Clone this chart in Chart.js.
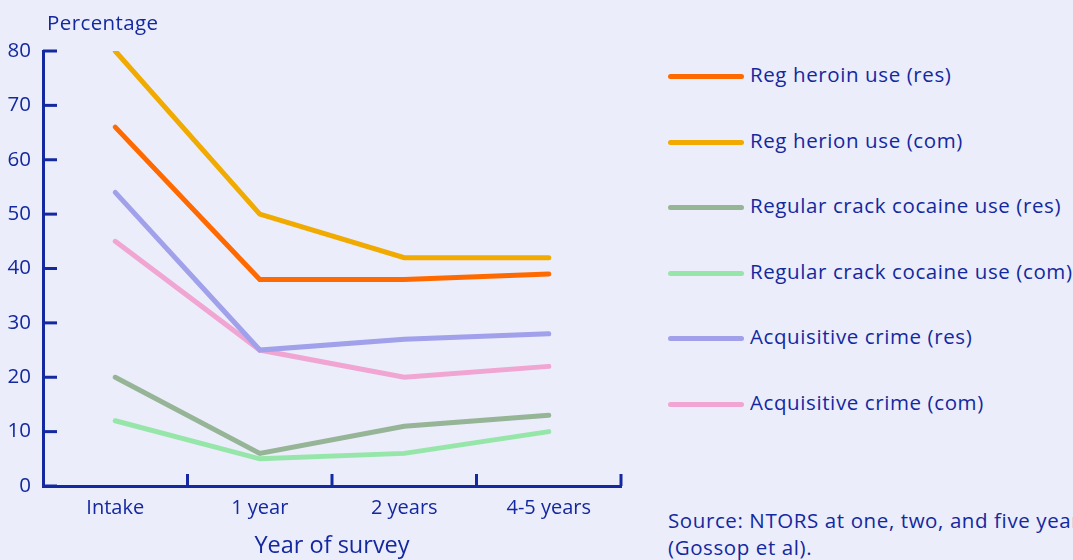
<!DOCTYPE html>
<html>
<head>
<meta charset="utf-8">
<title>Drug use and crime after treatment</title>
<script src="https://cdn.jsdelivr.net/npm/chart.js@4.4.1/dist/chart.umd.min.js"></script>
<style>
    html, body{
        margin: 0;
        padding: 0;
        background: #ebedfa;
        overflow: hidden;
    }
    .page{
        position: relative;
        width: 1073px;
        height: 560px;
        font-family: "Open Sans", sans-serif;
        color: #1428a0;
    }
    .chart-box{
        position: absolute;
        left: 0;
        top: 0;
        width: 640px;
        height: 560px;
    }
    .legend{
        position: absolute;
        left: 668px;
        top: 0;
        width: 405px;
        height: 560px;
        overflow: hidden;
    }
    .legend-item{
        position: absolute;
        left: 0;
        white-space: nowrap;
        font-size: 20.5px;
        letter-spacing: 0.6px;
    }
    .legend-item .swatch{
        position: absolute;
        left: 0;
        top: 12px;
        width: 76px;
        height: 5px;
        border-radius: 3px;
    }
    .legend-item .label{
        position: absolute;
        left: 82px;
        top: -2px;
    }
    .source{
        position: absolute;
        left: 0;
        top: 507px;
        font-size: 20.5px;
        letter-spacing: 0.6px;
        line-height: 27px;
        white-space: nowrap;
    }
</style>
</head>
<body>

<div class="page">
    <div class="chart-box">
        <canvas id="surveyChart" width="640" height="560"></canvas>
    </div>
    <div class="legend" id="legend">
        <div class="source">
            Source: NTORS at one, two, and five years<br>
            (Gossop et al).
        </div>
    </div>
</div>

<script>

/* =========================
   DATA
========================= */

const years = ["Intake", "1 year", "2 years", "4-5 years"];

const heroinRes = [66, 38, 38, 39];
const heroinCom = [80, 50, 42, 42];
const crackRes = [20, 6, 11, 13];
const crackCom = [12, 5, 6, 10];
const crimeRes = [54, 25, 27, 28];
const crimeCom = [45, 25, 20, 22];

const seriesNames = [
    "Reg heroin use (res)",
    "Reg herion use (com)",
    "Regular crack cocaine use (res)",
    "Regular crack cocaine use (com)",
    "Acquisitive crime (res)",
    "Acquisitive crime (com)"
];

const seriesColors = [
    "#ff6a00",
    "#f0aa00",
    "#96b496",
    "#96e6aa",
    "#a0a0eb",
    "#f0a5d2"
];

const yTicks = [0, 10, 20, 30, 40, 50, 60, 70, 80];

const inkColor = "#1428a0";

/* =========================
   INSIDE TICKS + Y TITLE
========================= */

const axisDecor = {

    id: "axisDecor",

    afterDraw(chart){

        const ctx = chart.ctx;
        const x = chart.scales.x;
        const y = chart.scales.y;
        const area = chart.chartArea;

        ctx.save();

        ctx.strokeStyle = inkColor;
        ctx.lineWidth = 3;

        /* y ticks pointing right */
        yTicks.forEach(v => {
            const py = y.getPixelForValue(v);
            ctx.beginPath();
            ctx.moveTo(area.left, py);
            ctx.lineTo(area.left + 14, py);
            ctx.stroke();
        });

        /* x ticks pointing up, between categories */
        for(let i = 0; i < years.length; i++){
            let px;
            if(i < years.length - 1){
                px = (x.getPixelForValue(i) + x.getPixelForValue(i + 1)) / 2;
            }else{
                px = area.right;
            }
            ctx.beginPath();
            ctx.moveTo(px, area.bottom);
            ctx.lineTo(px, area.bottom - 12);
            ctx.stroke();
        }

        /* y axis title */
        ctx.fillStyle = inkColor;
        ctx.font = "20.5px 'Open Sans', sans-serif";
        ctx.letterSpacing = "0.4px";
        ctx.textAlign = "left";
        ctx.textBaseline = "middle";
        ctx.fillText("Percentage", 47, 24);

        ctx.restore();

    }

};

/* =========================
   CHART
========================= */

const datasetList = [heroinRes, heroinCom, crackRes, crackCom, crimeRes, crimeCom]
    .map((values, i) => ({
        label: seriesNames[i],
        data: values,
        borderColor: seriesColors[i],
        backgroundColor: seriesColors[i],
        borderWidth: 5,
        borderCapStyle: "round",
        borderJoinStyle: "miter",
        pointRadius: 0,
        tension: 0,
        fill: false
    }));

new Chart(document.getElementById("surveyChart"), {

    type: "line",

    data: {
        labels: years,
        datasets: datasetList
    },

    options: {

        responsive: false,
        animation: false,

        layout: {
            padding: { left: 0, right: 19, top: 51, bottom: 0 }
        },

        plugins: {
            legend: { display: false },
            tooltip: { enabled: false }
        },

        scales: {

            x: {
                offset: true,
                grid: { display: false },
                border: { display: true, color: inkColor, width: 3 },
                ticks: {
                    color: inkColor,
                    font: { family: "Open Sans", size: 20 },
                    padding: 2,
                    maxRotation: 0
                },
                title: {
                    display: true,
                    text: "Year of survey",
                    color: inkColor,
                    font: { family: "Open Sans", size: 23.5 },
                    padding: { top: 8, bottom: 0 }
                },
                afterFit(scale){
                    scale.height = 74;
                }
            },

            y: {
                min: 0,
                max: 80,
                grid: { display: false },
                border: { display: true, color: inkColor, width: 3 },
                afterBuildTicks(scale){
                    scale.ticks = yTicks.map(v => ({ value: v }));
                },
                ticks: {
                    color: inkColor,
                    font: { family: "Open Sans", size: 20.5 },
                    padding: 4
                },
                afterFit(scale){
                    scale.width = 43;
                }
            }

        }

    },

    plugins: [axisDecor]

});

/* =========================
   LEGEND
========================= */

const legendBox = document.getElementById("legend");

seriesNames.forEach((name, i) => {

    const item = document.createElement("div");
    item.className = "legend-item";
    item.style.top = (62 + i * 65.5) + "px";

    const swatch = document.createElement("div");
    swatch.className = "swatch";
    swatch.style.background = seriesColors[i];

    const label = document.createElement("div");
    label.className = "label";
    label.textContent = name;

    item.appendChild(swatch);
    item.appendChild(label);
    legendBox.appendChild(item);

});

</script>

</body>
</html>
